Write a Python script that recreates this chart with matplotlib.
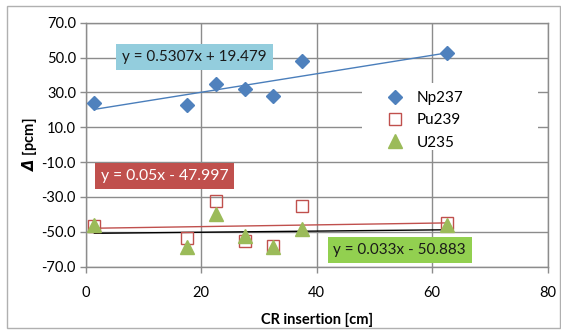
import matplotlib as mpl
import matplotlib.pyplot as plt
import numpy as np

mpl.rcParams['font.family'] = ['Lato', 'DejaVu Sans']
mpl.rcParams['font.size'] = 10

# CR insertion (cm) and reactivity differences (pcm)
cr_insertion = [1.5, 17.5, 22.5, 27.5, 32.5, 37.5, 62.5]
np237 = [23.8, 22.8, 34.7, 32.0, 28.1, 48.2, 52.4]
pu239 = [-46.5, -53.7, -32.5, -55.1, -58.1, -35.2, -44.7]
u235 = [-45.9, -58.9, -39.9, -52.4, -58.9, -48.6, -46.2]

# linear trend lines (slope, intercept) as shown in the chart labels
fit_np237 = [0.5307, 19.479]
fit_pu239 = [0.05, -47.997]
fit_u235 = [0.033, -50.883]
fit_labels = ['y = 0.5307x + 19.479', 'y = 0.05x - 47.997', 'y = 0.033x - 50.883']

x_ticks = [0, 20, 40, 60, 80]
y_ticks = [-70, -50, -30, -10, 10, 30, 50, 70]

fig = plt.figure(figsize=(5.61, 3.30), dpi=100)
ax = fig.add_axes([0.1528, 0.1918, 0.8235, 0.7394])

# outer chart border
fig.patches.append(mpl.patches.Rectangle((0.0125, 0.006), 0.985, 0.976, transform=fig.transFigure,
                                         fill=False, edgecolor='#b0b0b0', linewidth=1.0))

grid_col = '#8c8c8c'
ax.set_xlim(0, 80)
ax.set_ylim(-70, 70)
ax.set_xticks(x_ticks)
ax.set_yticks(y_ticks)
ax.set_yticklabels(['{:.1f}'.format(v) for v in y_ticks])
ax.grid(True, color=grid_col, linewidth=1.0, zorder=0)
ax.set_axisbelow(True)
for s in ax.spines.values():
    s.set_color(grid_col)
    s.set_linewidth(1.0)
ax.tick_params(axis='both', direction='out', length=4, width=1.0, color=grid_col, labelsize=10.5, pad=3)
ax.tick_params(axis='x', pad=10)

xs = np.array([cr_insertion[0], cr_insertion[-1]])
ax.plot(xs, fit_np237[0]*xs + fit_np237[1], color='#4a7ebb', linewidth=1.0, zorder=2)
ax.plot(xs, fit_pu239[0]*xs + fit_pu239[1], color='#c0504d', linewidth=1.0, zorder=2)
ax.plot(xs, fit_u235[0]*xs + fit_u235[1], color='black', linewidth=1.0, zorder=2)

ax.plot(cr_insertion, np237, linestyle='none', marker='D', markersize=7.5, color='#4f81bd',
        label='Np237', zorder=3)
ax.plot(cr_insertion, pu239, linestyle='none', marker='s', markersize=8.5, markerfacecolor='none',
        markeredgecolor='#c0504d', markeredgewidth=1.0, label='Pu239', zorder=3)
ax.plot(cr_insertion, u235, linestyle='none', marker='^', markersize=9.5, color='#9bbb59',
        label='U235', zorder=4)

ax.text(6.3, 50.3, fit_labels[0], fontsize=11, color='#1a1a1a', va='center', ha='left', zorder=5,
        bbox=dict(boxstyle='square,pad=0.38', facecolor='#93cddd', edgecolor='none'))
ax.text(2.6, -18.2, fit_labels[1], fontsize=11.3, color='white', va='center', ha='left', zorder=5,
        bbox=dict(boxstyle='square,pad=0.38', facecolor='#c0504d', edgecolor='none'))
ax.text(42.9, -60.4, fit_labels[2], fontsize=11, color='#1a1a1a', va='center', ha='left', zorder=5,
        bbox=dict(boxstyle='square,pad=0.38', facecolor='#92d050', edgecolor='none'))

# white legend area covering the gridlines
ax.add_patch(mpl.patches.Rectangle((0.598, 0.478), 0.381, 0.275, transform=ax.transAxes,
                                   facecolor='white', edgecolor='none', zorder=5))
leg = ax.legend(loc='center left', bbox_to_anchor=(0.627, 0.60), frameon=False, fontsize=11,
                handletextpad=0.6, borderpad=0.0, labelspacing=0.55, handlelength=1.6)
leg.set_zorder(6)

ax.set_xlabel('CR insertion [cm]', fontweight='bold', fontsize=10.5, labelpad=9)
ax.set_ylabel(r'$\mathbfit{\Delta}$ [pcm]', fontweight='bold', fontsize=10.5, labelpad=2)

plt.savefig('out.png', dpi=100)
plt.close()
